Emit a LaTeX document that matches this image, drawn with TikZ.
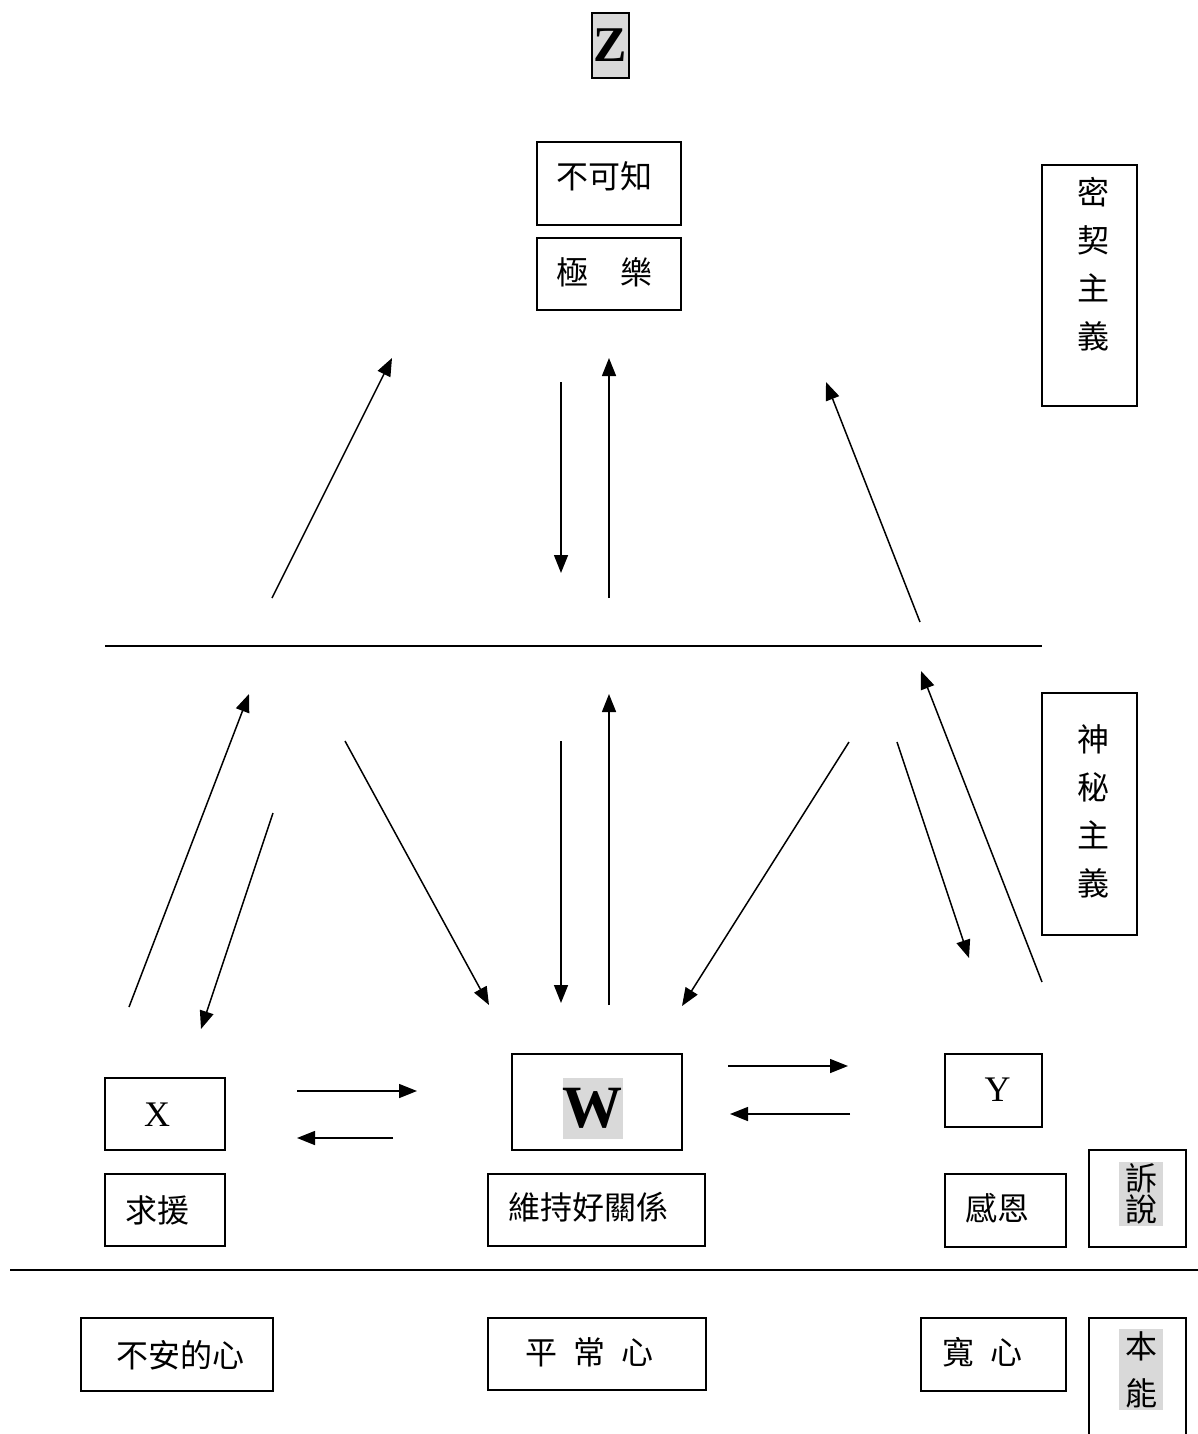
\documentclass[tikz,border=0pt]{standalone}
\usepackage{fontspec}
\setmainfont{Liberation Serif}
\newfontfamily\cjk{Noto Sans CJK TC}
\usetikzlibrary{arrows.meta}
\definecolor{hl}{HTML}{D9D9D9}
\begin{document}
\begin{tikzpicture}[x=1pt,y=-1pt,
  box/.style={draw,line width=1.5pt,inner sep=0pt},
  cj/.style={font=\cjk\fontsize{32}{48}\selectfont,inner sep=0pt,align=center},
  lat/.style={font=\fontsize{36}{40}\selectfont,inner sep=0pt},
  arr/.style={line width=1.5pt,-{Triangle[length=18pt,width=14pt]}},
  sepline/.style={line width=1.5pt}]
\useasboundingbox (0,0) rectangle (1198,1434);
\fill[white] (0,0) rectangle (1198,1434);

% ---- boxes ----
\node[box,fill=hl,minimum width=37pt,minimum height=65pt,font=\bfseries\fontsize{50}{50}\selectfont] (zb) at (610.5,45.5) {Z};
\node[box,minimum width=144pt,minimum height=83pt] (bk) at (609,183.5) {};
\node[box,minimum width=144pt,minimum height=72pt] (jl) at (609,274) {};
\node[box,minimum width=95pt,minimum height=241pt] (mq) at (1089.5,285.5) {};
\node[box,minimum width=95pt,minimum height=242pt] (sm) at (1089.5,814) {};
\node[box,minimum width=120pt,minimum height=72pt] (xb) at (165,1114) {};
\node[box,minimum width=120pt,minimum height=72pt] (qy) at (165,1210) {};
\node[box,minimum width=192pt,minimum height=73pt] (ba) at (177,1354.5) {};
\node[box,minimum width=170pt,minimum height=96pt] (wb) at (597,1102) {};
\node[box,minimum width=217pt,minimum height=72pt] (wc) at (596.5,1210) {};
\node[box,minimum width=218pt,minimum height=72pt] (pc) at (597,1354) {};
\node[box,minimum width=97pt,minimum height=73pt] (yb) at (993.5,1090.5) {};
\node[box,minimum width=121pt,minimum height=73pt] (ge) at (1005.5,1210.5) {};
\node[box,minimum width=97pt,minimum height=97pt] (ss) at (1137.5,1198.5) {};
\node[box,minimum width=145pt,minimum height=73pt] (kx) at (993.5,1354.5) {};
\node[box,minimum width=97pt,minimum height=132pt] (bn) at (1137.5,1384) {};

% ---- texts ----
\node[cj] (tbk) at (604.5,176.5) {不可知};
\node[cj] (tjl) at (604.5,272.5) {極\hspace{1em}樂};
\node[cj] (tmq) at (1093,264) {密\\契\\主\\義};
\node[cj] (tsm) at (1093,811.5) {神\\秘\\主\\義};
\node[lat] (txb) at (157,1115) {X};
\node[cj] (tqy) at (157,1210) {求援};
\node[cj] (tba) at (180,1355) {不安的心};
\node[fill=hl,inner sep=0pt,minimum width=59pt,minimum height=61pt,font=\bfseries\fontsize{60}{60}\selectfont] (twb) at (592.5,1108.5) {W};
\node[cj] (twc) at (588,1207.5) {維持好關係};
\node[cj] (tpc) at (589.5,1352.5) {平\hspace{0.5em}常\hspace{0.5em}心};
\node[lat] (tyb) at (997.5,1090) {Y};
\node[cj] (tge) at (997.5,1208.5) {感恩};
\node[cj,fill=hl,minimum width=44pt,minimum height=64pt,font=\cjk\fontsize{32}{31}\selectfont] (tss) at (1141,1194) {訴\\說};
\node[cj] (tkx) at (982,1352.5) {寬\hspace{0.5em}心};
\node[cj,fill=hl,minimum width=44pt,minimum height=81pt,font=\cjk\fontsize{32}{47}\selectfont] (tbn) at (1141,1369.5) {本\\能};

% ---- separator lines ----
\coordinate (l1a) at (105,646);
\coordinate (l1b) at (1042,646);
\coordinate (l2a) at (10,1270);
\coordinate (l2b) at (1198,1270);
\draw[sepline] (l1a) -- (l1b);
\draw[sepline] (l2a) -- (l2b);

% ---- arrow end points ----
\coordinate (a1s) at (272,598);  \coordinate (a1e) at (392,358);
\coordinate (a2s) at (561,382);  \coordinate (a2e) at (561,573);
\coordinate (a3s) at (609,598);  \coordinate (a3e) at (609,358);
\coordinate (a4s) at (920,622);  \coordinate (a4e) at (826,382);
\coordinate (b1s) at (129,1007); \coordinate (b1e) at (249,694);
\coordinate (b2s) at (273,813);  \coordinate (b2e) at (201,1029);
\coordinate (b3s) at (345,741);  \coordinate (b3e) at (489,1005);
\coordinate (b4s) at (561,741);  \coordinate (b4e) at (561,1003);
\coordinate (b5s) at (609,1005); \coordinate (b5e) at (609,694);
\coordinate (b6s) at (849,742);  \coordinate (b6e) at (682,1006);
\coordinate (b7s) at (897,742);  \coordinate (b7e) at (969,958);
\coordinate (b8s) at (1042,982); \coordinate (b8e) at (921,671);
\coordinate (h1s) at (297,1091); \coordinate (h1e) at (417,1091);
\coordinate (h2s) at (393,1138); \coordinate (h2e) at (297,1138);
\coordinate (h3s) at (728,1066); \coordinate (h3e) at (848,1066);
\coordinate (h4s) at (850,1114); \coordinate (h4e) at (730,1114);

\foreach \p in {a1,a2,a3,a4,b1,b2,b3,b4,b5,b6,b7,b8,h1,h2,h3,h4}
  \draw[arr] (\p s) -- (\p e);
\end{tikzpicture}
\end{document}
